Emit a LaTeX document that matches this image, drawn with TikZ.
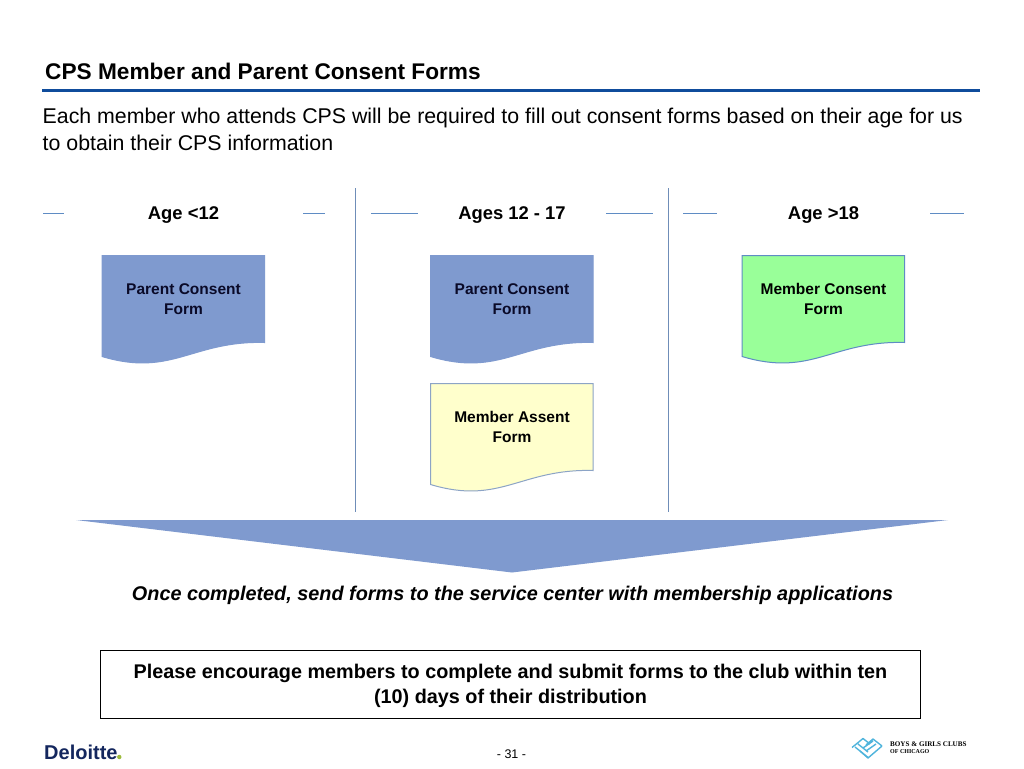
\documentclass[tikz,border=0pt]{standalone}
\usepackage{fontspec}
\setmainfont{Liberation Sans}
\newfontfamily\serifb{Liberation Serif}
\definecolor{ruleblue}{HTML}{0F4C9C}
\definecolor{dashblue}{HTML}{5F8CC4}
\definecolor{blockblue}{HTML}{7F9ACF}
\definecolor{divider}{HTML}{6F8DB8}
\definecolor{formgreen}{HTML}{99FF99}
\definecolor{formyellow}{HTML}{FFFFCC}
\definecolor{formtext}{HTML}{0A0A28}
\definecolor{dnavy}{HTML}{14275E}
\definecolor{dgreen}{HTML}{9DBB3C}
\definecolor{bgcblue}{HTML}{4FB4DC}
\tikzset{
  x=1pt,y=-1pt,
  plaintext/.style={inner sep=0pt,align=center,text=black},
  headtext/.style={plaintext,font=\bfseries\fontsize{18.4}{22}\selectfont},
  formlabel/.style={plaintext,font=\bfseries\fontsize{15.5}{20}\selectfont},
  tick/.style={draw=dashblue,line width=1.1pt},
  divline/.style={draw=divider,line width=1.2pt},
  formbox/.style={line width=1pt},
}
\newcommand{\formshape}[4]{% x, y, style, name
  \begin{scope}[shift={(#1,#2)}]
  \path[#3] (0,0) -- (162.5,0) -- (162.5,87)
    .. controls (90,85) and (70,122) .. (0,101) -- cycle;
  \coordinate (#4) at (81.5,43.5);
  \end{scope}
}
\begin{document}
\begin{tikzpicture}
\useasboundingbox (0,0) rectangle (1024,768);
\fill[white] (0,0) rectangle (1024,768);
% title
\node[plaintext,anchor=west,font=\bfseries\fontsize{22.65}{26}\selectfont] (title) at (45,71.5) {CPS Member and Parent Consent Forms};
\coordinate (ruleL) at (42,90.5); \coordinate (ruleR) at (980,90.5);
\draw[ruleblue,line width=2.2pt] (ruleL) -- (ruleR);
\node[plaintext,anchor=north west,align=left,font=\fontsize{21.33}{27}\selectfont] (intro) at (42.5,108)
 {Each member who attends CPS will be required to fill out consent forms based on their age for us\\to obtain their CPS information};
% headers
\node[headtext] (h1) at (183.5,215) {Age <12};
\node[headtext] (h2) at (512,215) {Ages 12 - 17};
\node[headtext] (h3) at (823.5,215) {Age >18};
\foreach \a/\b in {43/64,303/325,371/418,606/653,683/717,930/964}{
  \coordinate (ta) at (\a,213.5); \coordinate (tb) at (\b,213.5);
  \draw[tick] (ta) -- (tb);
}
% dividers
\coordinate (d1a) at (355.5,188); \coordinate (d1b) at (355.5,512);
\coordinate (d2a) at (668.5,188); \coordinate (d2b) at (668.5,512);
\draw[divline] (d1a) -- (d1b);
\draw[divline] (d2a) -- (d2b);
% forms
\formshape{102}{255.5}{fill=blockblue,draw=blockblue,formbox}{f1}
\formshape{430.5}{255.5}{fill=blockblue,draw=blockblue,formbox}{f2}
\formshape{742}{255.5}{fill=formgreen,draw=dashblue,formbox}{f3}
\formshape{430.5}{383.5}{fill=formyellow,draw=divider!80,formbox}{f4}
\node[formlabel,text=formtext] (l1) at (183.5,299) {Parent Consent\\Form};
\node[formlabel,text=formtext] (l2) at (512,299) {Parent Consent\\Form};
\node[formlabel] (l3) at (823.5,299) {Member Consent\\Form};
\node[formlabel] (l4) at (512,427) {Member Assent\\Form};
% funnel
\fill[blockblue] (76,520) -- (948,520) -- (512,572.5) -- cycle;
\node[plaintext,font=\bfseries\itshape\fontsize{19.85}{24}\selectfont] (once) at (512.5,595) {Once completed, send forms to the service center with membership applications};
% note
\node[draw=black,line width=1pt,minimum width=820pt,minimum height=68pt,inner sep=0pt] (note) at (510.5,684.5) {};
\node[plaintext,font=\bfseries\fontsize{19.8}{25}\selectfont] (notetext) at (510.5,686) {Please encourage members to complete and submit forms to the club within ten\\(10) days of their distribution};
% footer
\node[plaintext,font=\fontsize{12.5}{15}\selectfont] (page) at (511.5,754) {- 31 -};
\node[plaintext,anchor=west,text=dnavy,font=\bfseries\fontsize{20}{24}\selectfont] (del) at (44,752.5) {Deloitte};
\fill[dgreen] (119.3,757) circle (2.2);
% BGC logo
\begin{scope}[bgcblue,line width=1.4pt,line join=round]
 \draw (852,747.5) -- (863,738.5) -- (870,744) (858,744) -- (868,752) (855,747) -- (865,755) -- (868,757.5);
 \draw (882,746) -- (873,739) -- (866,745) (860,751) -- (868,758) -- (882,746) (863,748) -- (873,741) (866,751) -- (876,744);
\end{scope}
\node[plaintext,anchor=west,font=\serifb\bfseries\fontsize{7.1}{9}\selectfont] (bgc1) at (890,744.5) {BOYS \& GIRLS CLUBS};
\node[plaintext,anchor=west,font=\serifb\bfseries\fontsize{6}{8}\selectfont] (bgc2) at (890,751.5) {OF CHICAGO};
\end{tikzpicture}
\end{document}
